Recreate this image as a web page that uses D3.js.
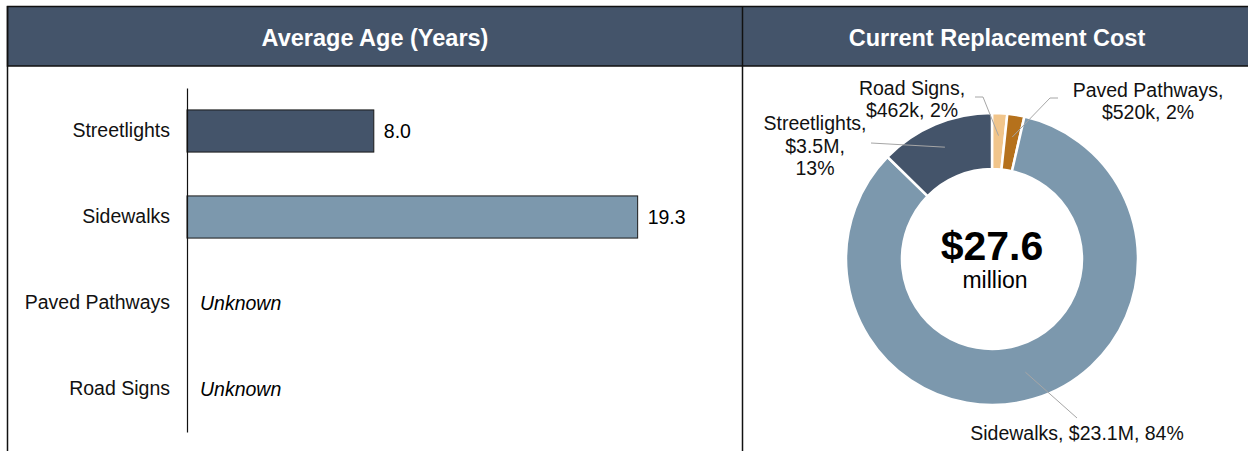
<!DOCTYPE html>
<html>
<head>
<meta charset="utf-8">
<script src="https://cdn.jsdelivr.net/npm/d3@7"></script>
<style>
  body { margin: 0; background: #fff; }
  svg { display: block; font-family: Arial, "Liberation Sans", sans-serif; }
</style>
</head>
<body>
<svg width="1248" height="451"></svg>
<script>
// average age, in years (null = unknown)
var ageCategories = ["Streetlights", "Sidewalks", "Paved Pathways", "Road Signs"];
var ageValues = [8.0, 19.3, null, null];

// replacement cost, millions, clockwise from 12 o'clock
var costCategories = ["Road Signs", "Paved Pathways", "Sidewalks", "Streetlights"];
var costValues = [0.462, 0.520, 23.1, 3.5];
var costLabels = [["Road Signs,", "$462k, 2%"], ["Paved Pathways,", "$520k, 2%"],
                  ["Sidewalks, $23.1M, 84%"], ["Streetlights,", "$3.5M,", "13%"]];
var totalLabel = "$27.6";

var colors = {
  "Streetlights": "#44546a",
  "Sidewalks": "#7c98ad",
  "Paved Pathways": "#b5711c",
  "Road Signs": "#f1c58b"
};

var fs = 19.5;
var svg = d3.select("svg");

// header band + frame
svg.append("rect").attr("x", 7.5).attr("y", 6.5).attr("width", 1245).attr("height", 59.5)
    .attr("fill", "#44546a").attr("stroke", "#111").attr("stroke-width", 1.5);
svg.append("line").attr("x1", 7.5).attr("x2", 7.5).attr("y1", 6).attr("y2", 451)
    .attr("stroke", "#111").attr("stroke-width", 1.5);
svg.append("line").attr("x1", 742.5).attr("x2", 742.5).attr("y1", 6).attr("y2", 451)
    .attr("stroke", "#111").attr("stroke-width", 1.5);
svg.append("text").attr("x", 375).attr("y", 46).attr("text-anchor", "middle")
    .attr("fill", "#fff").attr("font-weight", "bold").attr("font-size", 23.5)
    .text("Average Age (Years)");
svg.append("text").attr("x", 997).attr("y", 46).attr("text-anchor", "middle")
    .attr("fill", "#fff").attr("font-weight", "bold").attr("font-size", 23.5)
    .text("Current Replacement Cost");

// ---- bar chart
var x = d3.scaleLinear().domain([0, 1]).range([187, 210.35]);
var y = d3.scaleBand().domain(ageCategories).range([88, 432]).paddingInner(0.51).paddingOuter(0.255);

var g = svg.append("g");
g.selectAll(".bar")
  .data(ageCategories.filter(function(d, i) { return ageValues[i] != null; }))
  .enter().append("rect")
    .attr("class", "bar")
    .attr("x", x(0))
    .attr("y", function(d) { return y(d); })
    .attr("width", function(d) { return x(ageValues[ageCategories.indexOf(d)]) - x(0); })
    .attr("height", y.bandwidth())
    .attr("fill", function(d) { return colors[d]; })
    .attr("stroke", "#1a1a1a").attr("stroke-width", 1);

g.selectAll(".val")
  .data(ageCategories)
  .enter().append("text")
    .attr("x", function(d, i) { return ageValues[i] == null ? 200 : x(ageValues[i]) + 10; })
    .attr("y", function(d) { return y(d) + y.bandwidth() / 2; })
    .attr("dy", "0.35em")
    .attr("font-size", fs)
    .attr("font-style", function(d, i) { return ageValues[i] == null ? "italic" : null; })
    .text(function(d, i) { return ageValues[i] == null ? "Unknown" : ageValues[i].toFixed(1); });

g.append("g")
    .attr("transform", "translate(" + x(0) + ",0)")
    .call(d3.axisLeft(y).tickSize(0).tickPadding(17))
    .call(function(a) {
      a.select(".domain").attr("stroke", "#111").attr("stroke-width", 1.2);
      a.selectAll("text").attr("font-size", fs).attr("fill", "#111")
        .attr("font-family", "Arial, 'Liberation Sans', sans-serif");
    });

// ---- donut
var cx = 992, cy = 259;
var pie = d3.pie().sort(null).value(function(d) { return d; });
var arc = d3.arc().innerRadius(90).outerRadius(146);
var arcs = pie(costValues);
var dg = svg.append("g").attr("transform", "translate(" + cx + "," + cy + ")");

dg.selectAll("path")
  .data(arcs)
  .enter().append("path")
    .attr("d", arc)
    .attr("fill", function(d, i) { return colors[costCategories[i]]; })
    .attr("stroke", "#fff").attr("stroke-width", 2.5);

// leader lines (label end on the page, other end on the slice via d3.arc)
var leaders = [
  {start: [975, 97], elbow: [983, 97], r: 0.8},
  {start: [1058, 98], elbow: [1050, 98], r: 0.8},
  {start: [1077, 418], elbow: null, r: 0.75},
  {start: [871, 143], elbow: null, r: 0.78}
];
var labelArc = d3.arc();
dg.selectAll(".leader")
  .data(arcs)
  .enter().append("polyline")
    .attr("fill", "none").attr("stroke", "#a6a6a6").attr("stroke-width", 1)
    .attr("points", function(d, i) {
      var L = leaders[i];
      var rr = 90 + (146 - 90) * (L.r - 0.5) * 2;
      var p = labelArc.innerRadius(rr).outerRadius(rr).centroid(d);
      var pts = [[L.start[0] - cx, L.start[1] - cy]];
      if (L.elbow) pts.push([L.elbow[0] - cx, L.elbow[1] - cy]);
      pts.push(p);
      return pts.map(function(q) { return q.join(","); }).join(" ");
    });

var labelPos = [[912, 95, 22], [1148, 97, 22], [1077, 440, 22], [815, 130, 22.5]];
costLabels.forEach(function(lines, i) {
  var t = svg.append("text").attr("text-anchor", "middle").attr("font-size", fs).attr("fill", "#111");
  lines.forEach(function(s, j) {
    t.append("tspan").attr("x", labelPos[i][0]).attr("y", labelPos[i][1] + j * labelPos[i][2]).text(s);
  });
});

svg.append("text").attr("x", cx).attr("y", 260).attr("text-anchor", "middle")
    .attr("font-weight", "bold").attr("font-size", 41).attr("fill", "#000").text(totalLabel);
svg.append("text").attr("x", cx + 3).attr("y", 288).attr("text-anchor", "middle")
    .attr("font-size", 23).attr("fill", "#000").text("million");
</script>
</body>
</html>
